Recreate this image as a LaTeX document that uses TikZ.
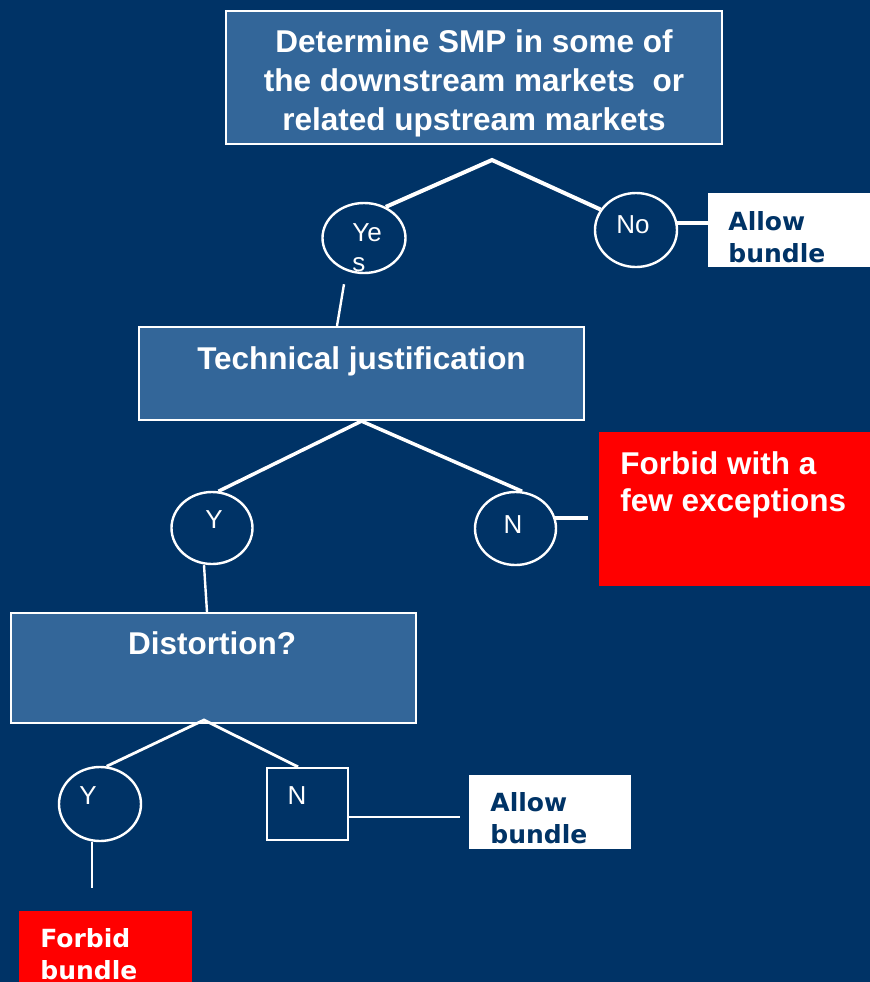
\documentclass[tikz,border=0pt]{standalone}
\usepackage{fontspec}
\setmainfont{Liberation Sans}
\newfontfamily\heavyfont{DejaVu Sans}
\usetikzlibrary{shapes.geometric}
\definecolor{navy}{RGB}{0,51,102}
\definecolor{steel}{RGB}{51,102,153}

\begin{document}
\begin{tikzpicture}[x=0.5pt,y=-0.5pt,
  qbox/.style={draw=white,line width=1.1pt,fill=steel,inner sep=0pt},
  ring/.style={ellipse,draw=white,line width=1.2pt,inner sep=0pt},
  panel/.style={fill=#1,inner sep=0pt},
  head/.style={text=white,font=\bfseries\fontsize{15.75}{19.5}\selectfont,inner sep=0pt},
  ans/.style={text=white,font=\fontsize{13}{15}\selectfont,inner sep=0pt},
  verdict/.style={font=\heavyfont\bfseries\fontsize{12.5}{16}\selectfont,align=left,inner sep=0pt,anchor=north west},
  fork/.style={white,line width=#1},
  stem/.style={white,line width=1.2pt}]
 \useasboundingbox (0,0) rectangle (870,982);
 \clip (0,0) rectangle (870,982);
 \fill[navy] (0,0) rectangle (870,982);

 \node[qbox,minimum width=248pt,minimum height=66.5pt] (smp) at (474,77.5) {};
 \node[head,align=center,anchor=north] (smptxt) at (474,29) {Determine SMP in some of\\the downstream markets\ \ or\\related upstream markets};
 \node[ring,minimum width=41.5pt,minimum height=35pt] (yes) at (364,238) {};
 \node[ans,align=left,anchor=north west] (yestxt) at (352,223) {Ye\\s};
 \node[ring,minimum width=41pt,minimum height=37pt] (no) at (636,230) {};
 \node[ans,anchor=base] (notxt) at (633,233) {No};
 \node[panel=white,minimum width=86pt,minimum height=37pt] (allow1) at (794,230) {};
 \node[verdict,text=navy] (allow1txt) at (728,211) {Allow\\bundle};

 \node[qbox,minimum width=222.5pt,minimum height=46.5pt] (tech) at (361.5,373.5) {};
 \node[head,anchor=base] (techtxt) at (361.5,369) {Technical justification};
 \node[ring,minimum width=40.5pt,minimum height=36pt] (y1) at (212,528) {};
 \node[ans,anchor=base] (y1txt) at (214,528) {Y};
 \node[ring,minimum width=40.5pt,minimum height=36.5pt] (n1) at (515.5,528.5) {};
 \node[ans,anchor=base] (n1txt) at (513,533) {N};
 \node[panel=red,minimum width=140.5pt,minimum height=77pt] (forbid1) at (739.5,509) {};
 \node[head,align=left,anchor=north west,font=\bfseries\fontsize{15.75}{18.5}\selectfont] (forbid1txt) at (620,451.5) {Forbid with a\\few exceptions};

 \node[qbox,minimum width=202.5pt,minimum height=55pt] (dist) at (213.5,668) {};
 \node[head,anchor=base] (disttxt) at (212,654) {Distortion?};
 \node[ring,minimum width=41pt,minimum height=37pt] (y2) at (100,804) {};
 \node[ans,anchor=base] (y2txt) at (88,804) {Y};
 \node[draw=white,line width=1.2pt,minimum width=40.5pt,minimum height=36pt,inner sep=0pt] (nsq) at (307.5,804) {};
 \node[ans,anchor=base] (nsqtxt) at (297,804) {N};
 \node[panel=white,minimum width=81pt,minimum height=37pt] (allow2) at (550,812) {};
 \node[verdict,text=navy] (allow2txt) at (490,792) {Allow\\bundle};
 \node[panel=red,minimum width=86.5pt,minimum height=39.5pt] (forbid2) at (105.5,950.5) {};
 \node[verdict,text=white] (forbid2txt) at (40,928) {Forbid\\bundle};

 \coordinate (fork1) at (492,160);
 \coordinate (fork3) at (204,720);
 \draw[fork=2pt] (yes.55) -- (fork1) -- (no.150);
 \draw[fork=2pt] (no.10) -- (no.10 -| allow1.west);
 \draw[stem] (yes.south -| 344,0) ++(0,10) -- (tech.north -| 337,0);
 \draw[fork=1.75pt] (y1.80) -- (tech.south) -- (n1.80);
 \draw[fork=2pt,shorten >=5.5pt] (n1.15) -- (n1.15 -| forbid1.west);
 \draw[stem] (y1.south -| 204,0) -- (dist.north -| 207,0);
 \draw[fork=1.4pt] (y2.80) -- (fork3) -- (nsq.north -| 298,0);
 \draw[stem,shorten >=4.5pt] (nsq.-17) -- (nsq.-17 -| allow2.west);
 \draw[stem,shorten >=11.5pt] (y2.south -| 92,0) -- (forbid2.north -| 92,0);
\end{tikzpicture}
\end{document}
